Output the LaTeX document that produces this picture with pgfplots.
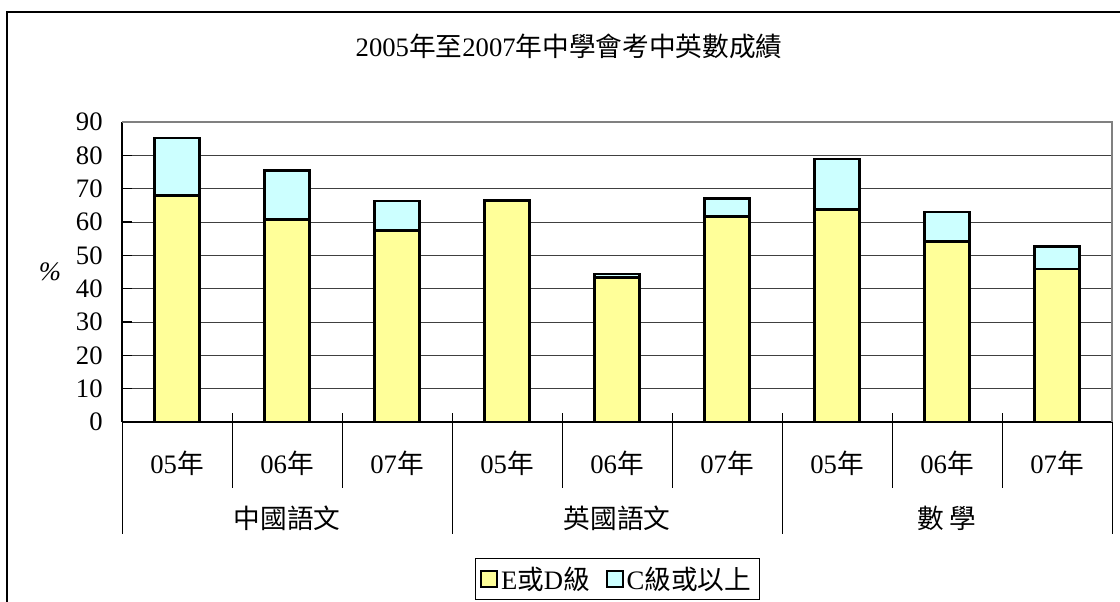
\documentclass[border=0pt]{standalone}
\usepackage{fontspec}
\setmainfont{Liberation Serif}
\newfontfamily\cjk{Noto Sans CJK TC}
\usepackage{pgfplots}
\pgfplotsset{compat=1.18}
\definecolor{barY}{HTML}{FFFF99}
\definecolor{barC}{HTML}{CCFFFF}
\newcommand\F{\fontsize{20}{24}\selectfont}
\newcommand\C[1]{{\cjk #1}}
\begin{document}
\begin{tikzpicture}[x=1pt,y=1pt]
\useasboundingbox (0,0) rectangle (840,450.75);
\fill[white] (0,0) rectangle (840,450.75);
\draw[black,line width=0.8pt] (5.25,-5) -- (5.25,441.75) -- (850,441.75);
\node[font=\F] at (426.75,416.25) {2005\C{年至}2007\C{年中學會考中英數成績}};
\node[font=\F\itshape] at (37.5,246.75) {\%};
\begin{axis}[
 at={(91.5pt,134.25pt)}, anchor=south west, scale only axis,
 width=742.5pt, height=225pt,
 xmin=0.5, xmax=9.5, ymin=0, ymax=90,
 ybar stacked, bar width=33.4pt,
 axis x line*=bottom, axis y line*=left,
 axis line style={black, line width=0.8pt},
 ytick={0,10,...,90},
 ymajorgrids, major grid style={black!75, line width=0.6pt},
 ytick align=inside, major tick length=7.5pt, tick style={black, line width=0.8pt},
 xtick={1,...,9}, xtick style={draw=none},
 xticklabels={05\C{年},06\C{年},07\C{年},05\C{年},06\C{年},07\C{年},05\C{年},06\C{年},07\C{年}},
 xticklabel style={anchor=center, yshift=-30.75pt, font=\F},
 yticklabel style={font=\F, xshift=-11pt},
 /pgf/number format/assume math mode=true,
 clip=false,
 legend style={at={(0.5,-0.5233)}, anchor=center, draw=black, line width=0.6pt, font=\F,
   legend columns=2, inner sep=4pt, /tikz/every even column/.append style={column sep=10pt}},
 legend image code/.code={\draw[#1, line width=1.5pt] (0pt,-6pt) rectangle (12pt,6pt);},
]
\addplot[fill=barY, draw=black, line width=2.2pt] coordinates {(1,67.9) (2,60.7) (3,57.4) (4,66.4) (5,43.3) (6,61.6) (7,63.7) (8,54.2) (9,45.9)};
\addplot[fill=barC, draw=black, line width=2.2pt] coordinates {(1,17.3) (2,14.8) (3,8.9) (4,0) (5,1.1) (6,5.5) (7,15.2) (8,8.8) (9,6.8)};
\legend{E\C{或}D\C{級}, C\C{級或以上}}
\draw[gray, line width=1pt] (rel axis cs:0,1) -- (rel axis cs:1,1) -- (rel axis cs:1,0);
\draw[black, line width=0.6pt] (axis cs:1.5,0) ++(0pt,6.75pt) -- ++(0pt,-56.25pt);
\draw[black, line width=0.6pt] (axis cs:2.5,0) ++(0pt,6.75pt) -- ++(0pt,-56.25pt);
\draw[black, line width=0.6pt] (axis cs:4.5,0) ++(0pt,6.75pt) -- ++(0pt,-56.25pt);
\draw[black, line width=0.6pt] (axis cs:5.5,0) ++(0pt,6.75pt) -- ++(0pt,-56.25pt);
\draw[black, line width=0.6pt] (axis cs:7.5,0) ++(0pt,6.75pt) -- ++(0pt,-56.25pt);
\draw[black, line width=0.6pt] (axis cs:8.5,0) ++(0pt,6.75pt) -- ++(0pt,-56.25pt);
\draw[black, line width=0.6pt] (axis cs:0.5,0) -- ++(0pt,-84pt);
\draw[black, line width=0.6pt] (axis cs:3.5,0) ++(0pt,6.75pt) -- ++(0pt,-90.75pt);
\draw[black, line width=0.6pt] (axis cs:6.5,0) ++(0pt,6.75pt) -- ++(0pt,-90.75pt);
\draw[black, line width=0.6pt] (axis cs:9.5,0) ++(0pt,6.75pt) -- ++(0pt,-90.75pt);
\node[font=\F] at (axis cs:2,0) [yshift=-72pt] {\C{中國語文}};
\node[font=\F] at (axis cs:5,0) [yshift=-72pt] {\C{英國語文}};
\node[font=\F] at (axis cs:8,0) [yshift=-72pt] {\C{數 學}};
\end{axis}
\end{tikzpicture}
\end{document}
